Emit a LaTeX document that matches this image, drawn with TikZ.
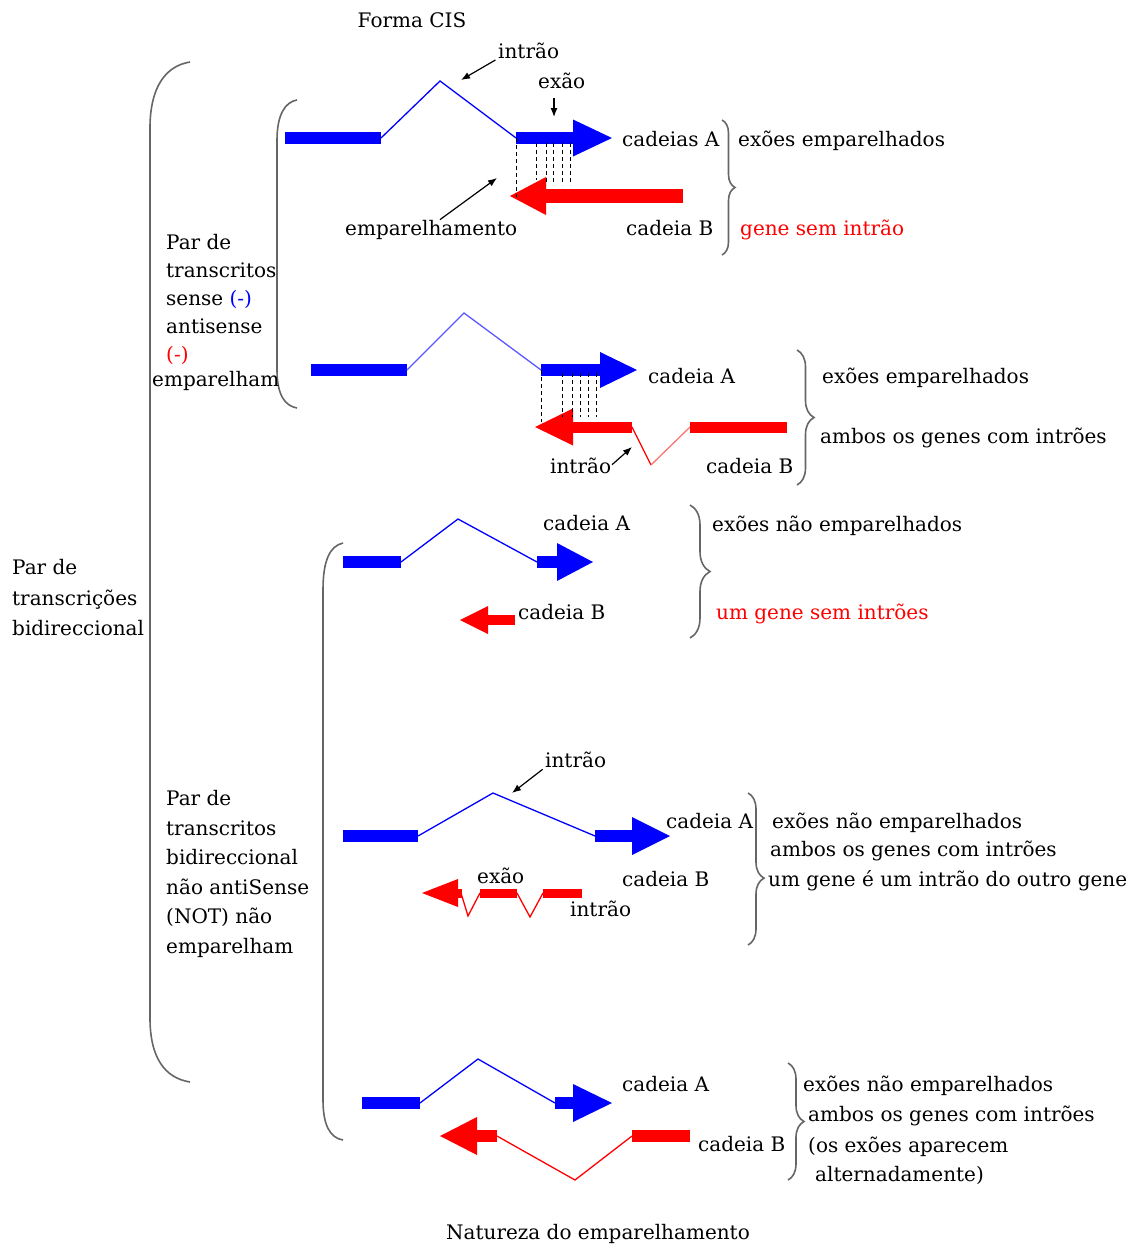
\documentclass[tikz,border=0pt]{standalone}
\usepackage{fontspec}
\setmainfont{DejaVu Serif}
\usetikzlibrary{arrows.meta,decorations.pathreplacing}

\begin{document}
\begin{tikzpicture}[x=1pt,y=-1pt,
    every node/.style={font=\fontsize{20}{29.5}\selectfont, inner sep=0pt},
    lbl/.style={anchor=base west},
    exon/.style={line width=#1}, exon/.default=12pt,
    intron/.style={line width=1.3pt},
    head/.style 2 args={-{Triangle[length=#1,width=#2,line width=0pt]}},
    pairing/.style={dash pattern=on 4pt off 3pt, line width=1pt},
    pointer/.style={-{Latex[length=9pt,width=7pt]}, line width=1.2pt},
    bracket/.style={line width=1.6pt, black!60},
    curly/.style={bracket, decorate, decoration={brace, amplitude=#1}}]
    \useasboundingbox (0,0) rectangle (1137,1245);

    % Titles
    \node[anchor=base] (forma) at (412,27) {Forma CIS};
    \node[anchor=base] (natureza) at (598,1239) {Natureza do emparelhamento};

    % Big bracket
    \draw[bracket] (190,62) .. controls (165,66) and (150,88) .. (150,128) -- (150,1018)
        .. controls (150,1058) and (165,1078) .. (190,1082);
    \node[anchor=west, align=left, font=\fontsize{20}{30.5}\selectfont] (bidir) at (12,598)
        {Par de\\transcrições\\bidireccional};

    % Upper bracket
    \draw[bracket] (297,100) .. controls (285,102) and (277,115) .. (277,140) -- (277,370)
        .. controls (277,395) and (285,406) .. (297,408);
    \node[anchor=west, align=left, font=\fontsize{20}{28.2}\selectfont] (sense) at (166,312)
        {Par de\\transcritos\\sense {\color{blue}(-)}\\antisense\\{\color{red}(-)}\\[-4pt]\hspace*{-14pt}emparelham};

    % Lower bracket
    \draw[bracket] (343,543) .. controls (330,546) and (323,560) .. (323,590) -- (323,1100)
        .. controls (323,1125) and (330,1138) .. (343,1140);
    \node[anchor=west, align=left, font=\fontsize{20}{29.6}\selectfont] (naosense) at (166,874)
        {Par de\\transcritos\\bidireccional\\não antiSense\\(NOT) não\\emparelham};

    % Row 1: cadeia A
    \draw[blue, exon] (285,138) -- (381,138);
    \draw[blue, intron] (381,138) -- (440,81) -- (516,138);
    \draw[blue, exon, head={39pt}{37pt}] (516,138) -- (612,138);
    % Row 1: cadeia B
    \draw[red, exon=14pt, head={36pt}{38pt}] (683,196) -- (510,196);
    \draw[pairing] (516,138) -- (516,197);
    \draw[pairing] (536,143) -- (536,180);
    \foreach \xd in {546,553,562,570}
        \draw[pairing] (\xd,143) -- (\xd,185);
    \node[lbl] (intr1) at (498,58) {intrão};
    \coordinate (i1) at (461,80);
    \draw[pointer, shorten <=3pt] (intr1.south west) -- (i1);
    \node[lbl] (exao1) at (538,88) {exão};
    \coordinate (e1) at (554,117);
    \draw[pointer, shorten <=10pt] (exao1.south -| e1) -- (e1);
    \node[lbl] (emp) at (345,235) {emparelhamento};
    \coordinate (p1) at (497,178);
    \draw[pointer] ([xshift=95pt]emp.north west) -- (p1);
    \node[lbl] (cadA1) at (622,146) {cadeias A};
    \node[lbl] (cadB1) at (626,235) {cadeia B};
    \draw[curly=13pt] (722,120) -- (722,255);
    \node[lbl] (nota1a) at (738,146) {exões emparelhados};
    \node[lbl, red] (nota1b) at (740,235) {gene sem intrão};

    % Row 2
    \draw[blue, exon] (311,370) -- (407,370);
    \draw[blue!65, intron] (407,370) -- (464,313) -- (541,370);
    \draw[blue, exon, head={37pt}{36pt}] (541,370) -- (637,370);
    \draw[red, exon=11pt, head={38pt}{37pt}] (632,427) -- (535,427);
    \draw[red, intron] (632,427) -- (651,465);
    \draw[red!55, intron] (651,465) -- (690,427);
    \draw[red, exon=11pt] (690,427) -- (787,427);
    \draw[pairing] (541,370) -- (541,422);
    \foreach \xd in {562,572,580,588,596}
        \draw[pairing] (\xd,373) -- (\xd,417);
    \node[lbl] (intr2) at (550,473) {intrão};
    \coordinate (i2) at (632,447);
    \draw[pointer, shorten <=1pt] (intr2.east) -- (i2);
    \node[lbl] (cadA2) at (648,383) {cadeia A};
    \node[lbl] (cadB2) at (706,473) {cadeia B};
    \draw[curly=17pt] (797,350) -- (797,485);
    \node[lbl] (nota2a) at (822,383) {exões emparelhados};
    \node[lbl] (nota2b) at (820,443) {ambos os genes com intrões};

    % Row 3
    \draw[blue, exon] (343,562) -- (401,562);
    \draw[blue, intron] (401,562) -- (458,519) -- (537,562);
    \draw[blue, exon, head={36pt}{38pt}] (537,562) -- (593,562);
    \draw[red, exon=10pt, head={28pt}{28pt}] (515,620) -- (460,620);
    \node[lbl] (cadA3) at (543,530) {cadeia A};
    \node[lbl] (cadB3) at (518,619) {cadeia B};
    \draw[curly=20pt] (690,505) -- (690,638);
    \node[lbl] (nota3a) at (712,531) {exões não emparelhados};
    \node[lbl, red] (nota3b) at (716,619) {um gene sem intrões};

    % Row 4
    \draw[blue, exon] (343,836) -- (418,836);
    \draw[blue, intron] (418,836) -- (493,793) -- (595,836);
    \draw[blue, exon, head={38pt}{38pt}] (595,836) -- (670,836);
    \draw[red, exon=9pt, head={36pt}{28pt}] (462,893) -- (422,893);
    \draw[red, intron] (461,893) -- (468,916) -- (480,893);
    \draw[red, exon=9pt] (480,893) -- (517,893);
    \draw[red, intron] (517,893) -- (530,917) -- (543,893);
    \draw[red, exon=9pt] (543,893) -- (582,893);
    \node[lbl] (intr4) at (545,767) {intrão};
    \coordinate (i4) at (512,793);
    \draw[pointer, shorten <=3pt] (intr4.south west) -- (i4);
    \node[lbl] (exao4) at (477,883) {exão};
    \node[lbl] (intr4b) at (570,916) {intrão};
    \node[lbl] (cadA4) at (666,828) {cadeia A};
    \node[lbl] (cadB4) at (622,886) {cadeia B};
    \draw[curly=16pt, decoration={aspect=0.56}] (748,793) -- (748,945);
    \node[lbl] (nota4a) at (772,828) {exões não emparelhados};
    \node[lbl] (nota4b) at (770,856) {ambos os genes com intrões};
    \node[lbl] (nota4c) at (768,886) {um gene é um intrão do outro gene};

    % Row 5
    \draw[blue, exon] (362,1103) -- (420,1103);
    \draw[blue, intron] (420,1103) -- (478,1059) -- (555,1103);
    \draw[blue, exon, head={39pt}{38pt}] (555,1103) -- (612,1103);
    \draw[red, exon, head={37pt}{38pt}] (497,1136) -- (440,1136);
    \draw[red, intron] (497,1136) -- (575,1180) -- (632,1136);
    \draw[red, exon] (632,1136) -- (690,1136);
    \node[lbl] (cadA5) at (622,1091) {cadeia A};
    \node[lbl] (cadB5) at (698,1151) {cadeia B};
    \draw[curly=16pt] (788,1063) -- (788,1180);
    \node[lbl] (nota5a) at (803,1091) {exões não emparelhados};
    \node[lbl] (nota5b) at (808,1121) {ambos os genes com intrões};
    \node[lbl] (nota5c) at (808,1152) {(os exões aparecem};
    \node[lbl] (nota5d) at (815,1181) {alternadamente)};
\end{tikzpicture}
\end{document}
